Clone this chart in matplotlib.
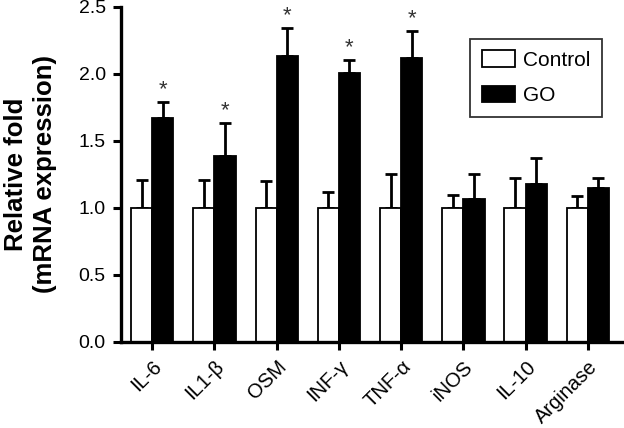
import matplotlib
matplotlib.use("Agg")
import matplotlib.pyplot as plt
import numpy as np

plt.rcParams['font.family'] = ['Liberation Sans', 'DejaVu Sans']

# data
genes = ['IL-6', 'IL1-\u03b2', 'OSM', 'INF-\u03b3', 'TNF-\u03b1', 'iNOS', 'IL-10', 'Arginase']
control = [1.0, 1.0, 1.0, 1.0, 1.0, 1.0, 1.0, 1.0]
control_err = [0.21, 0.21, 0.20, 0.12, 0.25, 0.10, 0.22, 0.09]
go = [1.67, 1.39, 2.13, 2.01, 2.12, 1.07, 1.18, 1.15]
go_err = [0.12, 0.24, 0.21, 0.09, 0.20, 0.18, 0.19, 0.07]
signif = [True, True, True, True, True, False, False, False]

fig = plt.figure(figsize=(6.24, 4.28), dpi=100)
ax = fig.add_axes([0.194, 0.201, 0.803, 0.783])

x = np.arange(len(genes))
w = 0.34
ax.bar(x - w/2, control, w, color='white', edgecolor='black', linewidth=1.3, label='Control', zorder=2)
ax.bar(x + w/2, go, w, color='black', edgecolor='black', linewidth=1.3, label='GO', zorder=2)
ax.errorbar(x - w/2, control, yerr=[np.zeros(len(x)), control_err], fmt='none',
            ecolor='black', elinewidth=2, capsize=4, capthick=2, zorder=1)
ax.errorbar(x + w/2, go, yerr=[np.zeros(len(x)), go_err], fmt='none',
            ecolor='black', elinewidth=2, capsize=4, capthick=2, zorder=1)

for i in range(len(x)):
    if signif[i]:
        ax.text(x[i] + w/2, go[i] + go_err[i] + 0.015, '*', ha='center', va='bottom',
                fontsize=16, color='#333333')

ax.set_xlim(-0.5, 7.55)
ax.set_ylim(0, 2.5)
ax.set_yticks([0, 0.5, 1.0, 1.5, 2.0, 2.5])
ax.set_yticklabels(['0.0', '0.5', '1.0', '1.5', '2.0', '2.5'])
ax.set_xticks(x)
ax.set_xticklabels(genes, rotation=45, ha='right', rotation_mode='anchor')
ax.tick_params(axis='both', width=2.2, length=6, direction='out')
ax.tick_params(axis='y', labelsize=14, pad=5)
ax.tick_params(axis='x', labelsize=14.5, pad=5)
for s in ['top', 'right']:
    ax.spines[s].set_visible(False)
for s in ['left', 'bottom']:
    ax.spines[s].set_linewidth(2.4)

ax.set_ylabel('Relative fold\n(mRNA expression)', fontsize=18.5, fontweight='bold', linespacing=1.25)
ax.yaxis.set_label_coords(-0.128, 0.5)

leg = ax.legend(loc='upper right', bbox_to_anchor=(0.960, 0.904), fontsize=15, frameon=True,
                fancybox=False, edgecolor='black', handlelength=1.6, handleheight=0.85,
                handletextpad=0.4, borderpad=0.55, labelspacing=0.75, borderaxespad=0)
leg.get_frame().set_linewidth(1.3)

fig.savefig('out.png', dpi=100)
